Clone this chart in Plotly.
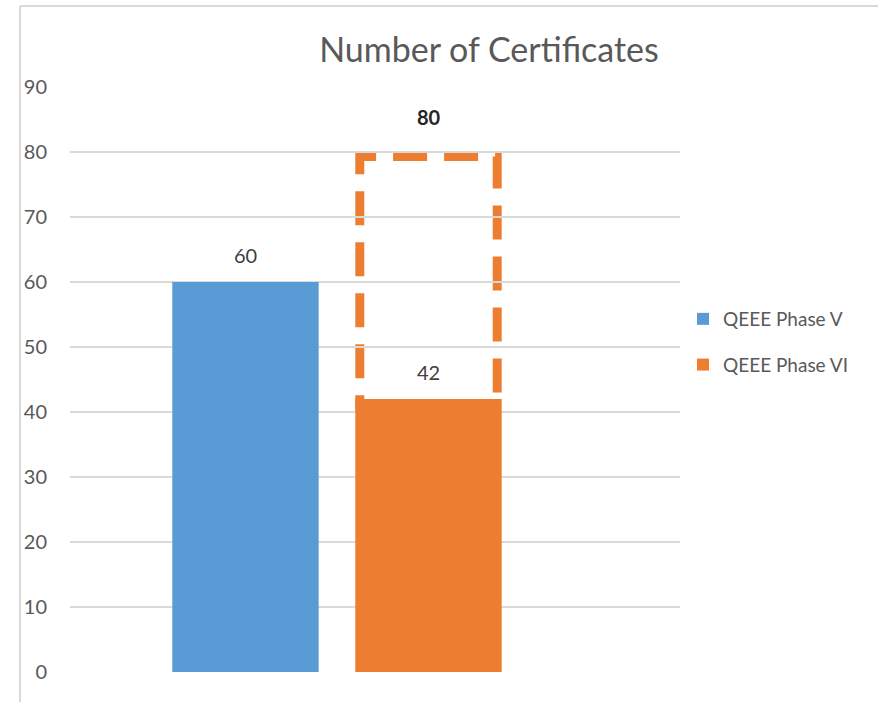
import plotly.graph_objects as go

# ---- data ----
category = ["Number of Certificates"]
series_names = ["QEEE Phase V", "QEEE Phase VI"]
phase_v = [60]
phase_vi = [42]
phase_vi_target = [80]
y_ticks = [0, 10, 20, 30, 40, 50, 60, 70, 80, 90]

colors = ["#5B9BD5", "#ED7D31"]
FONT = "Lato, 'Open Sans', sans-serif"
TXT = "#595959"

BARGAP = 0.4
GROUPGAP = 0.2
n_series = 2
slot = (1 - BARGAP) / n_series
bar_w = slot * (1 - GROUPGAP)
centers = [-(1 - BARGAP) / 2 + slot * (i + 0.5) for i in range(n_series)]

plot_l, plot_r, plot_t, plot_b = 70, 680, 87, 672
plot_w = plot_r - plot_l
unit_px = plot_w  # 1 category unit in px
px_per_y = (plot_b - plot_t) / 90.0

fig = go.Figure()
for name, vals, col in zip(series_names, [phase_v, phase_vi], colors):
    fig.add_trace(go.Bar(
        x=category, y=vals, name=name, marker=dict(color=col, line=dict(width=0)),
        legendgroup=name, hoverinfo="skip",
    ))

# dashed target box on Phase VI
lw = 9
half_lw_x = (lw / 2) / unit_px
half_lw_y = (lw / 2) / px_per_y
x0 = centers[1] - bar_w / 2 + half_lw_x
x1 = centers[1] + bar_w / 2 - half_lw_x
fig.add_shape(type="rect", xref="x", yref="y",
              x0=x0, x1=x1, y0=phase_vi[0] - 2 * half_lw_y, y1=phase_vi_target[0] - half_lw_y,
              line=dict(color=colors[1], width=lw, dash="34px,17px"),
              fillcolor="rgba(0,0,0,0)", layer="below")

# data labels
for c, v in zip(centers, [phase_v[0], phase_vi[0]]):
    fig.add_annotation(x=c, y=v, xref="x", yref="y", text=str(v), showarrow=False,
                       yanchor="middle", yshift=27,
                       font=dict(family=FONT, size=20, color="#404040"))
fig.add_annotation(x=centers[1], y=phase_vi_target[0], xref="x", yref="y",
                   text="<b>%d</b>" % phase_vi_target[0], showarrow=False,
                   yanchor="middle", yshift=35,
                   font=dict(family=FONT, size=20, color="#262626"))

# outer border lines (left and top)
fig.add_shape(type="line", xref="paper", yref="paper",
              x0=(20 - plot_l) / plot_w, x1=(20 - plot_l) / plot_w,
              y0=(plot_b - 702) / (plot_b - plot_t) - 0.1, y1=(plot_b - 6) / (plot_b - plot_t),
              line=dict(color="#D9D9D9", width=2))
fig.add_shape(type="line", xref="paper", yref="paper",
              x0=(20 - plot_l) / plot_w, x1=(880 - plot_l) / plot_w,
              y0=(plot_b - 6) / (plot_b - plot_t), y1=(plot_b - 6) / (plot_b - plot_t),
              line=dict(color="#D9D9D9", width=2))

center_px = 337
fig.update_layout(
    width=878, height=702,
    margin=dict(l=plot_l, r=878 - plot_r, t=plot_t, b=702 - plot_b, pad=0),
    paper_bgcolor="white", plot_bgcolor="white",
    barmode="group", bargap=BARGAP, bargroupgap=GROUPGAP,
    showlegend=True,
    title=dict(text="Number of Certificates", x=489 / 878, xanchor="center",
               y=1 - 50 / 702, yanchor="middle",
               font=dict(family=FONT, size=34, color=TXT)),
    xaxis=dict(range=[-(center_px - plot_l) / unit_px, (plot_r - center_px) / unit_px],
               showticklabels=False, showgrid=False, zeroline=False, showline=False,
               fixedrange=True),
    yaxis=dict(range=[0, 90], tickvals=y_ticks, showgrid=True, gridcolor="#D9D9D9",
               gridwidth=1.5, zeroline=False, showline=False,
               ticklabelstandoff=22,
               tickfont=dict(family=FONT, size=20, color=TXT)),
    legend=dict(x=(683 - plot_l) / plot_w, xanchor="left",
                y=(plot_b - 342) / (plot_b - plot_t), yanchor="middle",
                font=dict(family=FONT, size=19, color=TXT),
                tracegroupgap=18, traceorder="grouped", bgcolor="rgba(0,0,0,0)"),
)

fig.write_html("out.html", config={"displayModeBar": False},
               post_script="document.body.style.margin='0px';")
